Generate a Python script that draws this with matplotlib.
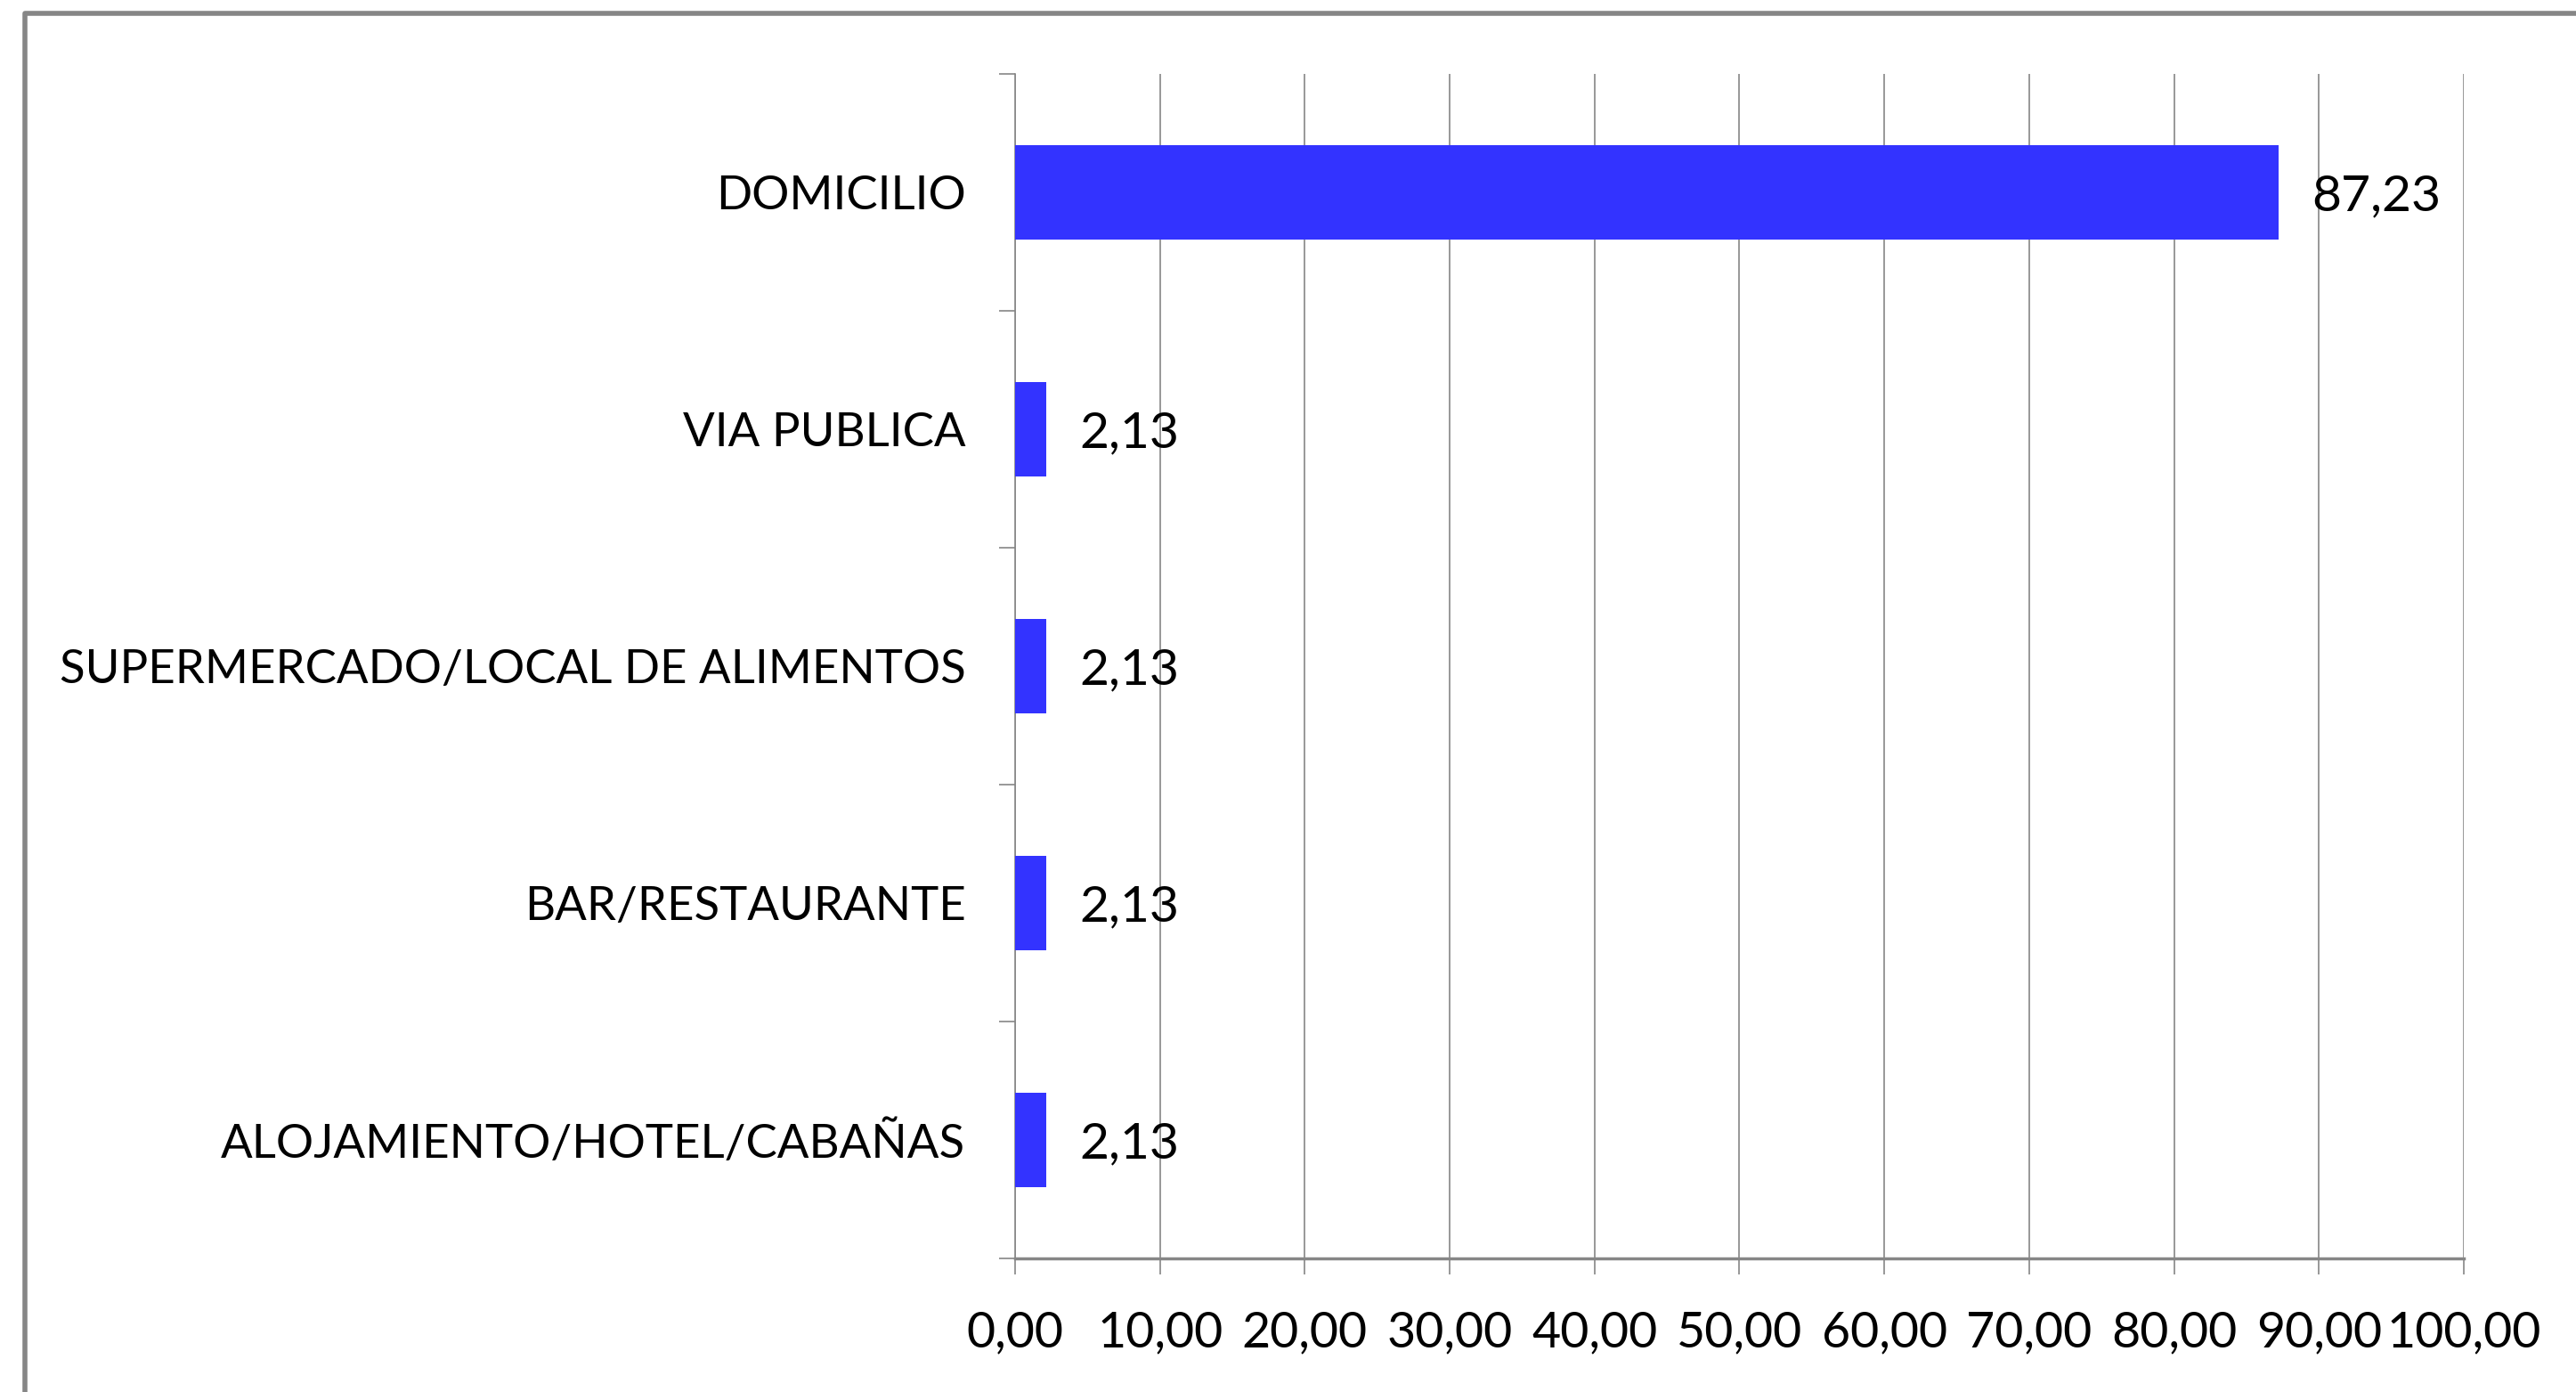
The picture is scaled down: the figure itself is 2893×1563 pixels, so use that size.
import matplotlib
matplotlib.use("Agg")
import matplotlib.pyplot as plt
from matplotlib.lines import Line2D

categories = ["DOMICILIO", "VIA PUBLICA", "SUPERMERCADO/LOCAL DE ALIMENTOS",
              "BAR/RESTAURANTE", "ALOJAMIENTO/HOTEL/CABAÑAS"]
values = [87.23, 2.13, 2.13, 2.13, 2.13]
xticks = [0, 10, 20, 30, 40, 50, 60, 70, 80, 90, 100]
xtick_labels = ["0,00", "10,00", "20,00", "30,00", "40,00", "50,00",
                "60,00", "70,00", "80,00", "90,00", "100,00"]
value_labels = ["87,23", "2,13", "2,13", "2,13", "2,13"]

plt.rcParams['font.family'] = ['Lato', 'DejaVu Sans']
W, H = 2893, 1563
fig = plt.figure(figsize=(W / 100, H / 100), dpi=100)
fig.patch.set_facecolor('white')

grey = '#868686'
ax = fig.add_axes([1140 / W, 1 - 1413 / H, (2767 - 1140) / W, (1413 - 83) / H])

n = len(categories)
ypos = list(range(n))
ax.barh(ypos, values, height=0.4, color='#3333FF', zorder=3)
ax.set_ylim(n - 0.5, -0.5)
ax.set_xlim(0, 100)

ax.set_xticks(xticks)
ax.set_xticklabels(xtick_labels, fontsize=40)
ax.set_yticks(ypos)
ax.set_yticklabels(categories, fontsize=38)
for t in ax.get_yticklabels():
    t.set_verticalalignment('center_baseline')
ax.tick_params(axis='y', length=0, pad=40)
ax.tick_params(axis='x', length=13, width=1.2, color=grey, pad=29, direction='out')
# y-axis boundary ticks
ax.set_yticks([i - 0.5 for i in range(n + 1)], minor=True)
ax.tick_params(axis='y', which='minor', length=13, width=1.2, color=grey, direction='out')

ax.grid(axis='x', color=grey, linewidth=1.2, zorder=0)
for s in ['top', 'right']:
    ax.spines[s].set_visible(False)
ax.spines['left'].set_color(grey)
ax.spines['left'].set_linewidth(1.2)
ax.spines['bottom'].set_color(grey)
ax.spines['bottom'].set_linewidth(2.5)
ax.spines['bottom'].set_zorder(4)

for y, v, lab in zip(ypos, values, value_labels):
    ax.annotate(lab, xy=(v, y), xytext=(27, 0), textcoords='offset points',
                va='center_baseline', ha='left', fontsize=41, zorder=5)

# outer frame (only left and top edges visible)
fig.add_artist(Line2D([28 / W, 28 / W, 1.0], [0.0, 1 - 15 / H, 1 - 15 / H],
                      transform=fig.transFigure, color=grey, linewidth=4))

fig.savefig("out.png", dpi=100)
